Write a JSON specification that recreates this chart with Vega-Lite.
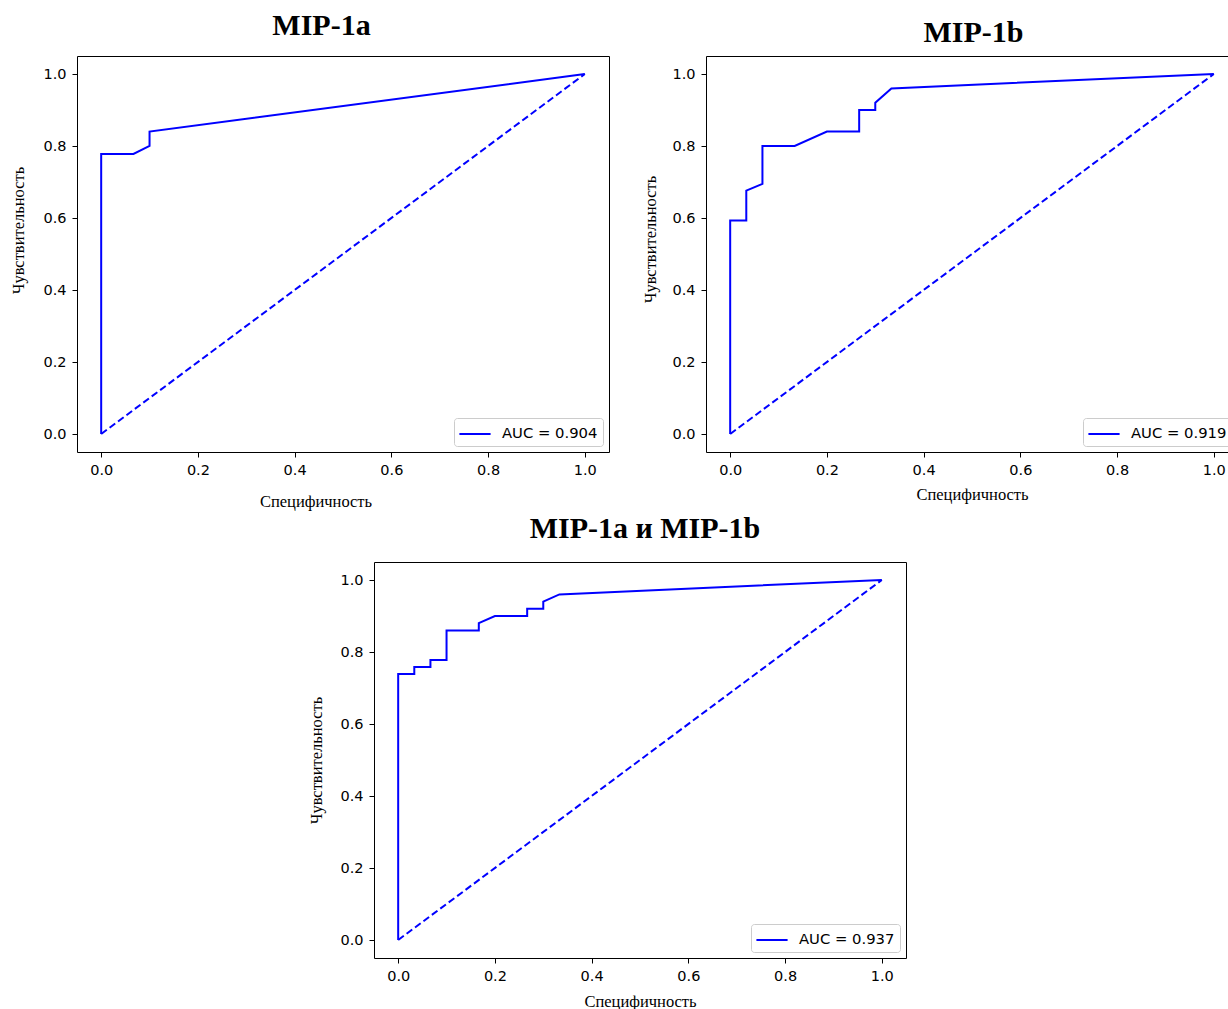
{
  "$schema": "https://vega.github.io/schema/vega-lite/v6.json",
  "background": "white",
  "padding": {"left": 9, "top": 10, "right": 0, "bottom": 0},
  "config": {
    "view": {"stroke": "black", "strokeWidth": 1},
    "axis": {"grid": false, "domain": false, "domainColor": "black", "domainWidth": 1, "tickColor": "black", "tickSize": 5, "tickWidth": 1, "labelFont": "DejaVu Sans", "labelFontSize": 14.5, "labelColor": "black", "labelPadding": 6, "titleFont": "Liberation Serif", "titleFontSize": 16.5, "titleFontWeight": "normal", "titleColor": "black"},
    "title": {"font": "Liberation Serif", "fontSize": 30, "fontWeight": "bold", "color": "black", "baseline": "alphabetic", "frame": "group"},
    "legend": {"orient": "bottom-right", "offset": 6, "strokeColor": "#cccccc", "fillColor": "white", "cornerRadius": 3, "padding": 5, "symbolType": "M-1.6,0H1.6", "symbolSize": 380, "symbolStrokeWidth": 2, "symbolStrokeColor": "#0000ff", "symbolOffset": 5, "labelFont": "DejaVu Sans", "labelFontSize": 14.8, "labelColor": "black", "labelOffset": 16}
  },
  "datasets": {
    "diag": [{"fpr": 0, "tpr": 0, "i": 0}, {"fpr": 1, "tpr": 1, "i": 1}],
    "roc1": [
      {"fpr": 0, "tpr": 0, "i": 0, "label": "AUC = 0.904"},
      {"fpr": 0, "tpr": 0.778, "i": 1, "label": "AUC = 0.904"},
      {"fpr": 0.0667, "tpr": 0.778, "i": 2, "label": "AUC = 0.904"},
      {"fpr": 0.1, "tpr": 0.8, "i": 3, "label": "AUC = 0.904"},
      {"fpr": 0.1, "tpr": 0.84, "i": 4, "label": "AUC = 0.904"},
      {"fpr": 1, "tpr": 1, "i": 5, "label": "AUC = 0.904"}
    ],
    "roc2": [
      {"fpr": 0, "tpr": 0, "i": 0, "label": "AUC = 0.919"},
      {"fpr": 0, "tpr": 0.593, "i": 1, "label": "AUC = 0.919"},
      {"fpr": 0.0333, "tpr": 0.593, "i": 2, "label": "AUC = 0.919"},
      {"fpr": 0.0333, "tpr": 0.676, "i": 3, "label": "AUC = 0.919"},
      {"fpr": 0.0667, "tpr": 0.695, "i": 4, "label": "AUC = 0.919"},
      {"fpr": 0.0667, "tpr": 0.8, "i": 5, "label": "AUC = 0.919"},
      {"fpr": 0.1333, "tpr": 0.8, "i": 6, "label": "AUC = 0.919"},
      {"fpr": 0.2, "tpr": 0.84, "i": 7, "label": "AUC = 0.919"},
      {"fpr": 0.2667, "tpr": 0.84, "i": 8, "label": "AUC = 0.919"},
      {"fpr": 0.2667, "tpr": 0.9, "i": 9, "label": "AUC = 0.919"},
      {"fpr": 0.3, "tpr": 0.9, "i": 10, "label": "AUC = 0.919"},
      {"fpr": 0.3, "tpr": 0.92, "i": 11, "label": "AUC = 0.919"},
      {"fpr": 0.3333, "tpr": 0.96, "i": 12, "label": "AUC = 0.919"},
      {"fpr": 1, "tpr": 1, "i": 13, "label": "AUC = 0.919"}
    ],
    "roc3": [
      {"fpr": 0, "tpr": 0, "i": 0, "label": "AUC = 0.937"},
      {"fpr": 0, "tpr": 0.739, "i": 1, "label": "AUC = 0.937"},
      {"fpr": 0.0333, "tpr": 0.739, "i": 2, "label": "AUC = 0.937"},
      {"fpr": 0.0333, "tpr": 0.758, "i": 3, "label": "AUC = 0.937"},
      {"fpr": 0.0667, "tpr": 0.758, "i": 4, "label": "AUC = 0.937"},
      {"fpr": 0.0667, "tpr": 0.778, "i": 5, "label": "AUC = 0.937"},
      {"fpr": 0.1, "tpr": 0.778, "i": 6, "label": "AUC = 0.937"},
      {"fpr": 0.1, "tpr": 0.86, "i": 7, "label": "AUC = 0.937"},
      {"fpr": 0.1667, "tpr": 0.86, "i": 8, "label": "AUC = 0.937"},
      {"fpr": 0.1667, "tpr": 0.88, "i": 9, "label": "AUC = 0.937"},
      {"fpr": 0.2, "tpr": 0.9, "i": 10, "label": "AUC = 0.937"},
      {"fpr": 0.2667, "tpr": 0.9, "i": 11, "label": "AUC = 0.937"},
      {"fpr": 0.2667, "tpr": 0.92, "i": 12, "label": "AUC = 0.937"},
      {"fpr": 0.3, "tpr": 0.92, "i": 13, "label": "AUC = 0.937"},
      {"fpr": 0.3, "tpr": 0.94, "i": 14, "label": "AUC = 0.937"},
      {"fpr": 0.3333, "tpr": 0.96, "i": 15, "label": "AUC = 0.937"},
      {"fpr": 1, "tpr": 1, "i": 16, "label": "AUC = 0.937"}
    ]
  },
  "spacing": 2,
  "resolve": {"scale": {"color": "independent"}, "legend": {"color": "independent"}},
  "vconcat": [
    {
      "spacing": 31,
      "resolve": {"scale": {"color": "independent"}, "legend": {"color": "independent"}},
      "hconcat": [
        {
          "width": 532, "height": 396,
          "title": {"text": "MIP-1a", "offset": 15, "dx": -21.5},
          "layer": [
            {
              "data": {"name": "diag"},
              "mark": {"type": "line", "color": "#0000ff", "strokeWidth": 2, "strokeDash": [7, 3.5]},
              "encoding": {
                "x": {"field": "fpr", "type": "quantitative", "scale": {"domain": [-0.05, 1.05], "nice": false, "zero": false}, "axis": {"title": "Специфичность", "values": [0, 0.2, 0.4, 0.6, 0.8, 1], "format": ".1f", "titlePadding": 17, "titleX": 238.5}},
                "y": {"field": "tpr", "type": "quantitative", "scale": {"domain": [-0.05, 1.05], "nice": false, "zero": false}, "axis": {"title": "Чувствительность", "values": [0, 0.2, 0.4, 0.6, 0.8, 1], "format": ".1f", "titlePadding": 16.5, "titleY": 174}},
                "order": {"field": "i"}
              }
            },
            {
              "data": {"name": "roc1"},
              "mark": {"type": "line", "strokeWidth": 2},
              "encoding": {
                "x": {"field": "fpr", "type": "quantitative"},
                "y": {"field": "tpr", "type": "quantitative"},
                "order": {"field": "i"},
                "color": {"field": "label", "type": "nominal", "scale": {"range": ["#0000ff"]}, "legend": {"title": null}}
              }
            }
          ]
        },
        {
          "width": 532, "height": 396,
          "title": {"text": "MIP-1b", "offset": 8, "dx": 1.5},
          "layer": [
            {
              "data": {"name": "diag"},
              "mark": {"type": "line", "color": "#0000ff", "strokeWidth": 2, "strokeDash": [7, 3.5]},
              "encoding": {
                "x": {"field": "fpr", "type": "quantitative", "scale": {"domain": [-0.05, 1.05], "nice": false, "zero": false}, "axis": {"title": "Специфичность", "values": [0, 0.2, 0.4, 0.6, 0.8, 1], "format": ".1f", "titlePadding": 10}},
                "y": {"field": "tpr", "type": "quantitative", "scale": {"domain": [-0.05, 1.05], "nice": false, "zero": false}, "axis": {"title": "Чувствительность", "values": [0, 0.2, 0.4, 0.6, 0.8, 1], "format": ".1f", "titlePadding": 13.5, "titleY": 183}},
                "order": {"field": "i"}
              }
            },
            {
              "data": {"name": "roc2"},
              "mark": {"type": "line", "strokeWidth": 2},
              "encoding": {
                "x": {"field": "fpr", "type": "quantitative"},
                "y": {"field": "tpr", "type": "quantitative"},
                "order": {"field": "i"},
                "color": {"field": "label", "type": "nominal", "scale": {"range": ["#0000ff"]}, "legend": {"title": null}}
              }
            }
          ]
        }
      ]
    },
    {
      "spacing": 0,
      "resolve": {"scale": {"color": "independent"}, "legend": {"color": "independent"}},
      "hconcat": [
        {
          "width": 229, "height": 10,
          "view": {"stroke": "transparent"},
          "data": {"values": []},
          "mark": "point"
        },
        {
          "width": 532, "height": 396,
          "title": {"text": "MIP-1a и MIP-1b", "offset": 18.5, "dx": 5},
          "layer": [
            {
              "data": {"name": "diag"},
              "mark": {"type": "line", "color": "#0000ff", "strokeWidth": 2, "strokeDash": [7, 3.5]},
              "encoding": {
                "x": {"field": "fpr", "type": "quantitative", "scale": {"domain": [-0.05, 1.05], "nice": false, "zero": false}, "axis": {"title": "Специфичность", "values": [0, 0.2, 0.4, 0.6, 0.8, 1], "format": ".1f", "titlePadding": 11}},
                "y": {"field": "tpr", "type": "quantitative", "scale": {"domain": [-0.05, 1.05], "nice": false, "zero": false}, "axis": {"title": "Чувствительность", "values": [0, 0.2, 0.4, 0.6, 0.8, 1], "format": ".1f", "titlePadding": 15.5}},
                "order": {"field": "i"}
              }
            },
            {
              "data": {"name": "roc3"},
              "mark": {"type": "line", "strokeWidth": 2},
              "encoding": {
                "x": {"field": "fpr", "type": "quantitative"},
                "y": {"field": "tpr", "type": "quantitative"},
                "order": {"field": "i"},
                "color": {"field": "label", "type": "nominal", "scale": {"range": ["#0000ff"]}, "legend": {"title": null}}
              }
            }
          ]
        }
      ]
    }
  ]
}
